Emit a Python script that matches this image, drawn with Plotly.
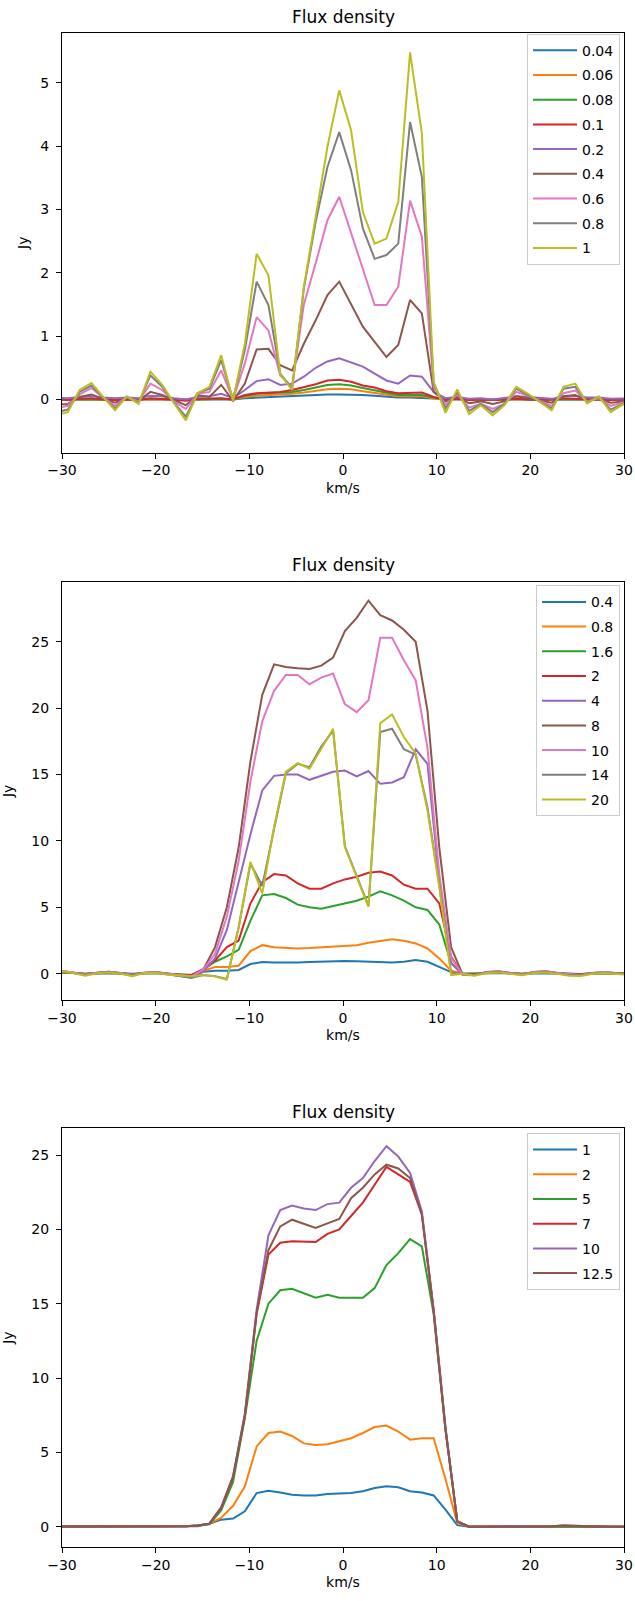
import plotly.graph_objects as go

# ---------------- velocity grids (km/s) ----------------
vel_a = [-30.64, -29.38, -28.12, -26.86, -25.6, -24.34, -23.08, -21.82, -20.56, -19.3,
         -18.04, -16.78, -15.52, -14.26, -13.0, -11.74, -10.48, -9.22, -7.96, -6.7,
         -5.44, -4.18, -2.92, -1.66, -0.4, 0.86, 2.12, 3.38, 4.64, 5.9,
         7.16, 8.42, 9.68, 10.94, 12.2, 13.46, 14.72, 15.98, 17.24, 18.5,
         19.76, 21.02, 22.28, 23.54, 24.8, 26.06, 27.32, 28.58, 29.84, 31.1]
vel_b = [-31.3, -30.04, -28.78, -27.52, -26.26, -25.0, -23.74, -22.48, -21.22, -19.96,
         -18.7, -17.44, -16.18, -14.92, -13.66, -12.4, -11.14, -9.88, -8.62, -7.36,
         -6.1, -4.84, -3.58, -2.32, -1.06, 0.2, 1.46, 2.72, 3.98, 5.24,
         6.5, 7.76, 9.02, 10.28, 11.54, 12.8, 14.06, 15.32, 16.58, 17.84,
         19.1, 20.36, 21.62, 22.88, 24.14, 25.4, 26.66, 27.92, 29.18, 30.44]

# ---------------- panel 1 ----------------
p1_labels = ["0.04", "0.06", "0.08", "0.1", "0.2", "0.4", "0.6", "0.8", "1"]
p1_004 = [0.0, 0.0, 0.0, 0.0, 0.0, 0.0, 0.0, 0.0, 0.0, 0.0, 0.0, 0.0, 0.0, 0.0, 0.0, 0.0,
          0.02, 0.03, 0.04, 0.05, 0.05, 0.06, 0.07, 0.08, 0.08, 0.08, 0.07, 0.06, 0.04, 0.03, 0.03, 0.02, 0.01,
          0.0, 0.0, 0.0, 0.0, 0.0, 0.0, 0.0, 0.0, 0.0, 0.0, 0.0, 0.0, 0.0, 0.0, 0.0, 0.0, 0.0]
p1_006 = [0.0, 0.0, 0.0, 0.01, 0.0, 0.0, 0.0, 0.0, 0.01, 0.0, 0.0, -0.01, 0.0, 0.0, 0.01, 0.0,
          0.04, 0.06, 0.07, 0.07, 0.09, 0.11, 0.14, 0.16, 0.17, 0.16, 0.13, 0.1, 0.07, 0.05, 0.05, 0.05, 0.02,
          0.0, 0.0, 0.0, 0.0, -0.01, 0.0, 0.0, 0.0, 0.0, 0.0, 0.01, 0.0, 0.0, 0.0, 0.0, 0.0, 0.0]
p1_008 = [0.0, 0.0, 0.01, 0.01, 0.0, -0.01, 0.0, 0.0, 0.01, 0.01, 0.0, -0.01, 0.0, 0.01, 0.01, 0.0,
          0.06, 0.09, 0.1, 0.1, 0.12, 0.15, 0.19, 0.23, 0.24, 0.22, 0.18, 0.14, 0.1, 0.07, 0.07, 0.07, 0.03,
          0.0, 0.01, 0.0, 0.0, -0.01, 0.0, 0.01, 0.0, 0.0, 0.0, 0.01, 0.01, 0.0, 0.0, 0.0, 0.0, 0.0]
p1_01 = [0.0, -0.01, 0.01, 0.02, 0.0, -0.01, 0.0, -0.01, 0.02, 0.01, 0.0, -0.02, 0.01, 0.01, 0.02, 0.0,
         0.07, 0.1, 0.11, 0.12, 0.15, 0.19, 0.24, 0.30, 0.31, 0.28, 0.22, 0.19, 0.13, 0.1, 0.11, 0.11, 0.04,
         0.0, 0.01, -0.01, 0.0, -0.01, 0.0, 0.01, 0.0, -0.01, 0.0, 0.02, 0.01, 0.0, 0.0, -0.01, 0.0, 0.0]
p1_02 = [0.03, 0.02, 0.04, 0.05, 0.03, 0.02, 0.03, 0.02, 0.06, 0.05, 0.02, 0.0, 0.04, 0.05, 0.09, 0.02,
         0.15, 0.29, 0.32, 0.23, 0.25, 0.36, 0.5, 0.6, 0.65, 0.59, 0.52, 0.41, 0.30, 0.25, 0.38, 0.36, 0.12,
         0.02, 0.04, 0.01, 0.02, 0.0, 0.02, 0.05, 0.04, 0.03, 0.01, 0.05, 0.06, 0.03, 0.03, 0.01, 0.02, 0.02]
p1_04 = [-0.08, -0.07, 0.04, 0.08, 0.01, -0.05, 0.02, -0.02, 0.12, 0.07, -0.01, -0.09, 0.07, 0.04, 0.23, -0.02,
         0.25, 0.79, 0.80, 0.54, 0.46, 0.88, 1.25, 1.65, 1.86, 1.51, 1.15, 0.91, 0.67, 0.86, 1.57, 1.36, 0.12,
         -0.03, 0.04, -0.06, -0.03, -0.07, -0.03, 0.05, 0.02, -0.01, -0.05, 0.05, 0.07, -0.02, 0.01, -0.05, -0.03, -0.02]
p1_06 = [-0.14, -0.1, 0.08, 0.18, 0.03, -0.1, 0.04, -0.03, 0.25, 0.15, -0.03, -0.15, 0.09, 0.12, 0.46, 0.0,
         0.57, 1.30, 1.09, 0.38, 0.2, 1.5, 2.15, 2.83, 3.2, 2.62, 2.04, 1.49, 1.49, 1.78, 3.14, 2.57, 0.2,
         -0.08, 0.08, -0.13, -0.07, -0.15, -0.07, 0.12, 0.06, -0.02, -0.1, 0.1, 0.14, -0.03, 0.02, -0.1, -0.05, -0.03]
p1_08 = [-0.2, -0.16, 0.12, 0.22, 0.03, -0.14, 0.04, -0.05, 0.38, 0.2, -0.05, -0.27, 0.1, 0.17, 0.62, 0.0,
         0.78, 1.86, 1.49, 0.41, 0.17, 1.75, 2.8, 3.67, 4.22, 3.62, 2.70, 2.22, 2.28, 2.46, 4.38, 3.51, 0.25,
         -0.14, 0.12, -0.18, -0.07, -0.2, -0.07, 0.17, 0.07, -0.03, -0.14, 0.17, 0.2, -0.05, 0.04, -0.16, -0.07, -0.04]
p1_1 = [-0.25, -0.2, 0.15, 0.26, 0.04, -0.17, 0.05, -0.07, 0.44, 0.23, -0.06, -0.33, 0.1, 0.2, 0.70, -0.02,
        0.88, 2.30, 1.96, 0.4, 0.15, 1.78, 2.88, 3.99, 4.88, 4.25, 2.96, 2.46, 2.54, 3.12, 5.48, 4.2, 0.28,
        -0.21, 0.16, -0.23, -0.09, -0.25, -0.09, 0.2, 0.09, -0.04, -0.17, 0.2, 0.25, -0.06, 0.05, -0.2, -0.08, -0.05]

# ---------------- panel 2 ----------------
p2_labels = ["0.4", "0.8", "1.6", "2", "4", "8", "10", "14", "20"]
p2_04 = [0.05, 0.08, 0.05, 0.0, 0.02, 0.05, 0.03, 0.0, 0.02, 0.05, -0.05, -0.15, -0.3,
         0.15, 0.22, 0.22, 0.28, 0.73, 0.88, 0.85, 0.83, 0.85, 0.88, 0.9, 0.95, 0.95, 0.93, 0.9, 0.88, 0.85, 0.9, 1.03, 0.9, 0.48, 0.12, 0.02,
         0.0, 0.03, 0.05, 0.02, 0.0, 0.03, 0.05, 0.02, 0.0, -0.02, 0.02, 0.04, 0.02, 0.0]
p2_08 = [0.05, 0.1, 0.05, 0.0, 0.03, 0.06, 0.02, -0.02, 0.03, 0.05, 0.0, -0.05, -0.1,
         0.2, 0.5, 0.5, 0.6, 1.7, 2.15, 2.0, 1.95, 1.9, 1.93, 1.98, 2.08, 2.13, 2.15, 2.33, 2.48, 2.6, 2.48, 2.28, 1.9, 1.15, 0.22, 0.02,
         0.0, 0.05, 0.08, 0.03, 0.0, 0.05, 0.07, 0.02, -0.02, -0.03, 0.03, 0.05, 0.02, 0.0]
p2_16 = [0.08, 0.12, 0.05, -0.02, 0.04, 0.08, 0.02, -0.04, 0.04, 0.06, 0.0, -0.06, -0.1,
         0.3, 0.9, 1.3, 1.8, 4.0, 5.9, 6.0, 5.7, 5.2, 5.0, 4.9, 5.1, 5.3, 5.5, 5.8, 6.2, 5.9, 5.5, 5.0, 4.8, 3.7, 0.8, 0.0,
         -0.03, 0.06, 0.1, 0.03, -0.02, 0.06, 0.1, 0.03, -0.03, -0.05, 0.03, 0.06, 0.02, -0.01]
p2_2 = [0.1, 0.15, 0.05, -0.03, 0.05, 0.1, 0.03, -0.05, 0.05, 0.08, 0.0, -0.08, -0.1,
        0.35, 1.0, 2.0, 2.5, 5.3, 6.9, 7.5, 7.4, 6.8, 6.4, 6.4, 6.8, 7.1, 7.3, 7.6, 7.7, 7.4, 6.7, 6.4, 6.4, 5.3, 1.3, -0.1,
        -0.05, 0.08, 0.12, 0.04, -0.03, 0.08, 0.12, 0.04, -0.04, -0.06, 0.04, 0.08, 0.02, -0.02]
p2_4 = [0.1, 0.18, 0.08, -0.05, 0.06, 0.12, 0.04, -0.06, 0.06, 0.1, 0.0, -0.1, -0.25,
        0.15, 1.15, 3.3, 7.0, 10.5, 13.8, 14.9, 15.0, 15.0, 14.6, 14.9, 15.2, 15.3, 14.86, 15.26, 14.3, 14.4, 14.8, 16.9, 15.8, 7.0, 0.8, -0.1,
        -0.08, 0.1, 0.15, 0.05, -0.05, 0.1, 0.15, 0.05, -0.05, -0.08, 0.05, 0.1, 0.03, -0.03]
p2_8 = [0.12, 0.2, 0.08, -0.05, 0.08, 0.15, 0.05, -0.08, 0.08, 0.12, 0.0, -0.12, -0.2,
        0.3, 2.0, 5.0, 9.5, 16.0, 21.0, 23.3, 23.1, 23.0, 22.95, 23.2, 23.8, 25.8, 26.8, 28.1, 27.0, 26.6, 25.9, 25.0, 19.8, 9.5, 2.0, -0.1,
        -0.1, 0.12, 0.18, 0.06, -0.05, 0.12, 0.18, 0.06, -0.06, -0.1, 0.06, 0.12, 0.04, -0.04]
p2_10 = [0.12, 0.2, 0.1, -0.05, 0.08, 0.15, 0.05, -0.1, 0.08, 0.12, 0.0, -0.12, -0.2,
         0.3, 1.5, 4.3, 8.5, 14.5, 19.0, 21.3, 22.5, 22.5, 21.8, 22.3, 22.6, 20.3, 19.7, 20.6, 25.3, 25.3, 23.6, 22.1, 17.0, 7.5, 1.2, -0.1,
         -0.12, 0.1, 0.18, 0.06, -0.06, 0.12, 0.18, 0.05, -0.06, -0.12, 0.06, 0.12, 0.03, -0.04]
p2_14 = [0.1, 0.15, 0.05, -0.1, 0.05, 0.12, 0.02, -0.12, 0.06, 0.1, -0.05, -0.2, -0.3,
         -0.1, -0.2, -0.4, 3.5, 8.3, 6.6, 10.9, 15.1, 15.8, 15.55, 17.1, 18.3, 9.6, 7.4, 5.1, 18.2, 18.45, 16.9, 16.5, 12.5, 6.7, 0.1, -0.05,
         -0.1, 0.08, 0.12, 0.02, -0.08, 0.08, 0.12, 0.02, -0.1, -0.12, 0.02, 0.08, 0.0, -0.05]
p2_20 = [0.12, 0.2, 0.05, -0.15, 0.03, 0.1, 0.0, -0.18, 0.05, 0.08, -0.08, -0.15, -0.2,
         -0.1, -0.2, -0.45, 3.5, 8.42, 6.04, 11.05, 15.2, 15.86, 15.44, 16.94, 18.45, 9.55, 7.3, 5.04, 18.87, 19.52, 17.82, 16.57, 12.3, 6.54, -0.1, 0.0,
         -0.15, 0.05, 0.1, 0.0, -0.12, 0.05, 0.1, 0.0, -0.15, -0.18, 0.0, 0.06, -0.02, -0.08]

# ---------------- panel 3 ----------------
p3_labels = ["1", "2", "5", "7", "10", "12.5"]
p3_1 = [0.0, 0.0, 0.0, 0.0, 0.0, 0.0, 0.0, 0.0, 0.0, 0.0, 0.0, 0.01, 0.02,
        0.2, 0.47, 0.54, 1.03, 2.26, 2.42, 2.3, 2.15, 2.1, 2.1, 2.2, 2.22, 2.26, 2.38, 2.6, 2.71, 2.65, 2.38, 2.3, 2.1, 1.15, 0.1, 0.0,
        0.0, 0.0, 0.0, 0.0, 0.0, 0.0, 0.0, 0.01, 0.01, 0.0, 0.0, 0.0, 0.0, 0.0]
p3_2 = [0.0, 0.0, 0.0, 0.0, 0.0, 0.0, 0.0, 0.0, 0.0, 0.0, 0.0, 0.02, 0.05,
        0.2, 0.6, 1.4, 2.7, 5.4, 6.3, 6.4, 6.1, 5.6, 5.5, 5.55, 5.75, 5.95, 6.3, 6.7, 6.8, 6.4, 5.85, 5.95, 5.95, 3.2, 0.25, 0.0,
        0.0, 0.0, 0.0, 0.0, 0.0, 0.0, 0.01, 0.03, 0.02, 0.0, 0.0, 0.0, 0.0, 0.0]
p3_5 = [0.0, 0.0, 0.0, 0.0, 0.0, 0.0, 0.0, 0.0, 0.0, 0.0, 0.0, 0.03, 0.07,
        0.15, 1.1, 3.0, 7.3, 12.5, 15.0, 15.9, 16.0, 15.7, 15.4, 15.6, 15.4, 15.4, 15.4, 16.05, 17.6, 18.4, 19.35, 18.85, 14.3, 6.5, 0.35, 0.0,
        0.0, 0.0, 0.0, 0.0, 0.0, 0.0, 0.02, 0.05, 0.03, 0.0, 0.0, 0.0, 0.0, 0.0]
p3_7 = [0.0, 0.0, 0.0, 0.0, 0.0, 0.0, 0.0, 0.0, 0.0, 0.0, 0.0, 0.03, 0.08,
        0.2, 1.25, 3.3, 7.4, 14.3, 18.3, 19.1, 19.2, 19.2, 19.15, 19.7, 20.0, 20.9, 21.8, 23.0, 24.2, 23.7, 23.2, 21.0, 14.5, 6.6, 0.35, 0.0,
        0.0, 0.0, 0.01, 0.0, 0.0, 0.0, 0.02, 0.06, 0.04, 0.0, 0.0, 0.0, 0.0, 0.0]
p3_10 = [0.0, 0.0, 0.0, 0.0, 0.0, 0.0, 0.0, 0.0, 0.0, 0.0, 0.0, 0.03, 0.08,
         0.2, 1.3, 3.4, 7.6, 14.6, 19.6, 21.3, 21.6, 21.4, 21.3, 21.7, 21.8, 22.8, 23.45, 24.6, 25.6, 24.9, 23.8, 21.2, 14.6, 6.7, 0.35, 0.0,
         0.0, 0.0, 0.01, 0.0, 0.0, 0.0, 0.02, 0.07, 0.05, 0.0, 0.0, 0.0, 0.0, 0.0]
p3_125 = [0.0, 0.0, 0.0, 0.0, 0.0, 0.0, 0.0, 0.0, 0.0, 0.0, 0.0, 0.03, 0.08,
          0.2, 1.3, 3.35, 7.5, 14.4, 18.6, 20.2, 20.65, 20.4, 20.1, 20.4, 20.7, 22.1, 22.8, 23.7, 24.35, 24.1, 23.45, 21.0, 14.5, 6.6, 0.35, 0.0,
          0.0, 0.0, 0.01, 0.0, 0.0, 0.0, 0.03, 0.08, 0.06, 0.0, 0.0, 0.0, 0.0, 0.0]

x_ticks = [-30, -20, -10, 0, 10, 20, 30]
x_ticktext = ["\u221230", "\u221220", "\u221210", "0", "10", "20", "30"]

colors = ["#1f77b4", "#ff7f0e", "#2ca02c", "#d62728", "#9467bd",
          "#8c564b", "#e377c2", "#7f7f7f", "#bcbd22"]

panels = [
    dict(x=vel_a, ys=[p1_004, p1_006, p1_008, p1_01, p1_02, p1_04, p1_06, p1_08, p1_1], labels=p1_labels,
         yr=[-0.84, 5.79], yt=[0, 1, 2, 3, 4, 5], dom=[0.71724, 0.97957], ytitle_pos=0.98938,
         leg_y=0.97895, standoff=8),
    dict(x=vel_b, ys=[p2_04, p2_08, p2_16, p2_2, p2_4, p2_8, p2_10, p2_14, p2_20], labels=p2_labels,
         yr=[-1.98, 29.52], yt=[0, 5, 10, 15, 20, 25], dom=[0.37539, 0.63667], ytitle_pos=0.64709,
         leg_y=0.63442, standoff=14),
    dict(x=vel_a, ys=[p3_1, p3_2, p3_5, p3_7, p3_10, p3_125], labels=p3_labels,
         yr=[-1.37, 26.8], yt=[0, 5, 10, 15, 20, 25], dom=[0.03373, 0.29525], ytitle_pos=0.30562,
         leg_y=0.29232, standoff=14),
]

fig = go.Figure()
layout = {}
annotations = []
FONT = "DejaVu Sans"
for i, p in enumerate(panels):
    n = "" if i == 0 else str(i + 1)
    leg = "legend" + n
    for j, (yv, lab) in enumerate(zip(p["ys"], p["labels"])):
        fig.add_trace(go.Scatter(
            x=p["x"], y=yv, mode="lines", name=lab,
            line=dict(color=colors[j], width=2),
            xaxis="x" + n, yaxis="y" + n, legend=leg,
            legendgroup=f"g{i}_{j}", hoverinfo="skip"))
    common = dict(showline=True, mirror=True, linecolor="black", linewidth=1,
                  ticks="outside", ticklen=5, tickwidth=1, tickcolor="black",
                  showgrid=False, zeroline=False,
                  tickfont=dict(family=FONT, size=14, color="black"))
    layout["xaxis" + n] = dict(common, domain=[0, 1], anchor="y" + n, range=[-30, 30],
                               tickmode="array", tickvals=x_ticks, ticktext=x_ticktext,
                               ticklabelstandoff=0,
                               title=dict(text="km/s", standoff=5,
                                          font=dict(family=FONT, size=14, color="black")))
    layout["yaxis" + n] = dict(common, domain=p["dom"], anchor="x" + n, range=p["yr"],
                               tickmode="array", tickvals=p["yt"],
                               ticklabelstandoff=4,
                               title=dict(text="Jy", standoff=p["standoff"],
                                          font=dict(family=FONT, size=14, color="black")))
    layout[leg] = dict(x=0.9929, xanchor="right", y=p["leg_y"], yanchor="top",
                       bgcolor="rgba(255,255,255,0.8)", bordercolor="#cccccc", borderwidth=1,
                       font=dict(family=FONT, size=14, color="black"), tracegroupgap=3.5,
                       itemwidth=44)
    annotations.append(dict(text="Flux density", xref="paper", yref="paper", x=0.5,
                            y=p["ytitle_pos"], xanchor="center", yanchor="middle",
                            showarrow=False, font=dict(family=FONT, size=17, color="black")))

fig.update_layout(**layout)
fig.update_layout(width=635, height=1601, margin=dict(l=62, r=11, t=0, b=0),
                  plot_bgcolor="white", paper_bgcolor="white",
                  font=dict(family=FONT, size=14, color="black"),
                  annotations=annotations, showlegend=True)
fig.write_html("out.html", config={"displayModeBar": False},
               post_script="document.body.style.margin='0';document.body.style.overflow='hidden';")
